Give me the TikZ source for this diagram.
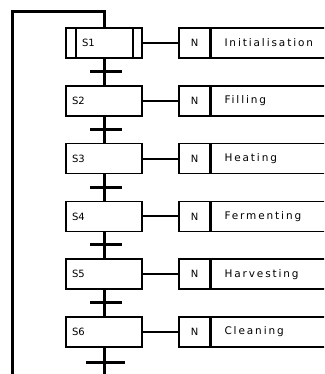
\documentclass[tikz,border=0pt]{standalone}
\usepackage{fontspec}
\setmainfont{DejaVu Sans}
\newfontfamily\actfont[LetterSpace=18]{DejaVu Sans}
\begin{document}
\begin{tikzpicture}[x=1pt,y=-1pt,
  stepbox/.style={draw,line width=1.5pt,minimum height=30pt,text width=64pt,inner xsep=6pt,inner ysep=0pt,align=left,font=\fontsize{10}{11}\selectfont},
  nbox/.style={draw,line width=1.5pt,minimum width=31pt,minimum height=30pt,inner sep=0pt,font=\fontsize{10}{11}\selectfont},
  actbox/.style={draw,line width=1.5pt,anchor=west,minimum height=30pt,text width=104pt,inner xsep=13pt,inner ysep=0pt,align=left,font=\actfont\fontsize{10.5}{11}\selectfont},
  conn/.style={line width=3pt,line join=miter},
  link/.style={line width=2pt},
  trans/.style={line width=3pt},
  inbar/.style={line width=2.2pt}
]
\clip (0,0) rectangle (324,374);
\useasboundingbox (0,0) rectangle (324,374);

% steps
\node[stepbox] (s1) at (104,43) {\hspace*{10pt}S1};
\node[stepbox] (s2) at (104,100.8) {S2};
\node[stepbox] (s3) at (104,158.6) {S3};
\node[stepbox] (s4) at (104,216.4) {S4};
\node[stepbox] (s5) at (104,274.2) {S5};
\node[stepbox] (s6) at (104,332) {S6};

% initial step inner bars
\draw[inbar] ([xshift=11pt]s1.north west) -- ([xshift=11pt]s1.south west);
\draw[inbar] ([xshift=-10pt]s1.north east) -- ([xshift=-10pt]s1.south east);

% actions
\foreach \i/\t in {1/Initialisation,2/Filling,3/Heating,4/Fermenting,5/Harvesting,6/Cleaning}{
  \node[nbox] (n\i) at (194.5,0|-s\i) {N};
  \node[actbox] (a\i) at (n\i.east) {\t};
  \draw[link] (s\i.east) -- (n\i.west);
}

% connectors between steps
\draw[conn] (s1.south) -- (s2.north);
\draw[conn] (s2.south) -- (s3.north);
\draw[conn] (s3.south) -- (s4.north);
\draw[conn] (s4.south) -- (s5.north);
\draw[conn] (s5.south) -- (s6.north);

% transitions
\foreach \y in {71.5,129.3,187.1,244.9,302.7}{
  \draw[trans] (90,\y) -- (122,\y);
}
\draw[trans] (86,362) -- (125,362);

% loop back
\coordinate (endb) at (104,374);
\coordinate (lb) at (12,374);
\coordinate (lt) at (12,12);
\coordinate (rt) at (104,12);
\draw[conn] (s6.south) -- (endb);
\draw[conn] (lb) -- (lt) -- (rt) -- (s1.north);
\end{tikzpicture}
\end{document}
